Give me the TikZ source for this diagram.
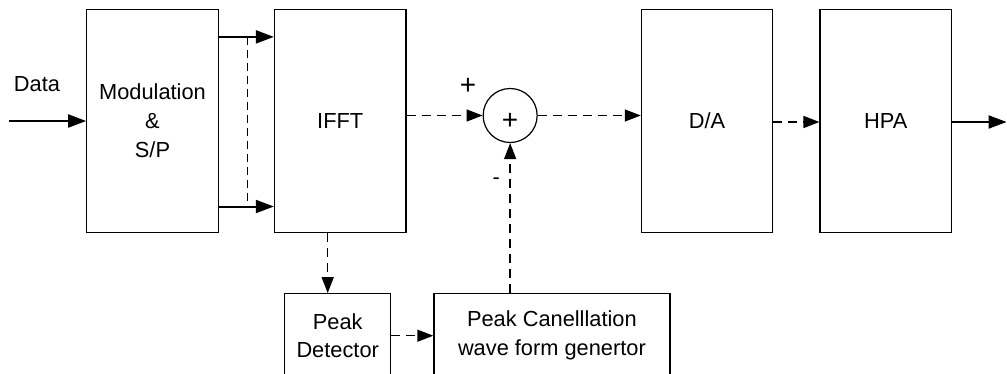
\documentclass[tikz,border=0pt]{standalone}
\usepackage{fontspec}
\setmainfont{Liberation Sans}
\usetikzlibrary{arrows.meta, positioning, calc}

\begin{document}
\begin{tikzpicture}[
        blk/.style = {
            draw,
            line width = 0.6pt,
            align = center,
            inner sep = 0pt,
            font = \fontsize{10.9}{14.4}\selectfont
        },
        tall/.style = {
            blk,
            minimum width = 65.75pt,
            minimum height = 111.5pt
        },
        low/.style = {
            blk,
            minimum height = 42pt
        },
        sarr/.style = {
            -{Triangle[length = 9pt, width = 6.5pt]},
            line width = 1pt
        },
        darr/.style = {
            -{Triangle[length = 8pt, width = 6pt]},
            line width = 0.7pt,
            dash pattern = on 4.5pt off 3pt
        },
        txt/.style = {
            font = \fontsize{10.9}{14.4}\selectfont
        },
        node distance = 27.5pt
    ]
        \clip (0,0) rectangle (503.5pt,-187pt);

        \node[tall] (mod) at (76.25pt,-60.5pt) {Modulation\\\&\\S/P};
        \node[tall, right = of mod] (ifft) {IFFT};
        \node[blk, circle, minimum size = 27pt, right = 38pt of ifft, yshift = 2.75pt,
            font = \fontsize{14}{14}\selectfont] (sum) {\smash{\raisebox{-7.2pt}{+}}};
        \node[tall, right = 51.5pt of sum, yshift = -2.75pt] (da) {D/A};
        \node[tall, right = 23pt of da] (hpa) {HPA};

        \node[low, minimum width = 53pt, below = 30pt of ifft, xshift = -1.25pt] (pd) {Peak\\Detector};
        \node[low, minimum width = 118pt, right = 21pt of pd] (pcw) {Peak Canelllation\\wave form genertor};

        % labels
        \node[txt] (dlab) at (18.5pt,-42pt) {Data};
        \node[font = \fontsize{14}{14}\selectfont] (plab) at ([xshift = -21pt, yshift = 14.5pt]sum.center) {+};
        \node[txt] (mlab) at ([xshift = -7pt, yshift = -33pt]sum.center) {-};

        \coordinate (din) at (4.65pt,-60.5pt);
        \coordinate (dout) at (503.3pt,-61pt);
        \coordinate (ptop) at ($(mod.north east)!0.5!(ifft.north west) + (0.6pt,-14pt)$);
        \coordinate (pbot) at ($(mod.south east)!0.5!(ifft.south west) + (0.6pt,15.5pt)$);

        \draw[sarr] (din) -- (mod);
        \draw[sarr] ([yshift = -14pt]mod.north east) -- ([yshift = -14pt]ifft.north west);
        \draw[sarr] ([yshift = 13.3pt]mod.south east) -- ([yshift = 13.3pt]ifft.south west);
        \draw[line width = 0.6pt, dash pattern = on 4pt off 2.5pt] (ptop) -- (pbot);
        \draw[darr] (ifft.east |- sum) -- (sum);
        \draw[darr] (sum) -- (da.west |- sum);
        \draw[darr] ([yshift = -0.5pt]da.east) -- ([yshift = -0.5pt]hpa.west);
        \draw[sarr] ([yshift = -0.5pt]hpa.east) -- (dout);
        \draw[darr] ([xshift = -5pt]pd.north |- ifft.south) -- ([xshift = -5pt]pd.north);
        \draw[darr] (pd) -- (pcw);
        \draw[darr] (sum |- pcw.north) -- (sum);
    \end{tikzpicture}
\end{document}
